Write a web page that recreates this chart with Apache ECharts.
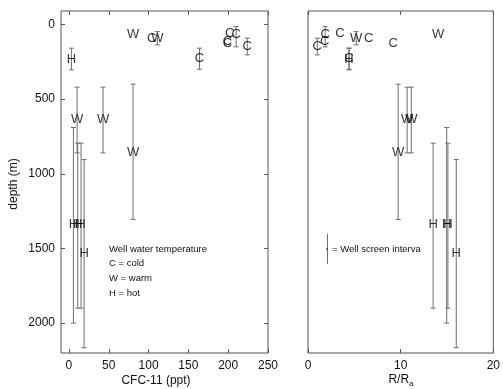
<!DOCTYPE html>
<html>
<head>
<meta charset="utf-8">
<script src="https://cdn.jsdelivr.net/npm/echarts@6/dist/echarts.min.js"></script>
<style>
  html, body { margin: 0; padding: 0; background: #fff; }
  #chart { width: 503px; height: 389px; }
</style>
</head>
<body>
<div id="chart"></div>
<script>
// one entry per well
const wellType = ["C", "C", "C", "C", "C", "C", "C", "W", "W", "W", "W", "W", "H", "H", "H", "H", "H"];
const depth = [95, 226, 126, 63, 70, 150, 115, 66, 92, 638, 638, 860, 232, 1340, 1340, 1340, 1535];
const cfc11 = [104, 164, 199, 202, 210, 224, 199, 80.5, 111, 10.2, 42.8, 80.5, 3.1, 5.6, 11, 15.2, 19];
const rRa = [6.56, 4.43, 9.2, 3.44, 1.85, 1.0, 1.8, 14.05, 5.2, 10.7, 11.15, 9.73, 4.43, 14.97, 15.1, 13.5, 16];
// well screen interval (top, bottom), null = no bar drawn
const screenTop = [null, 159, null, null, 14, 92, null, null, 48, 420, 420, 400, 159, 690, 795, 795, 905];
const screenBottom = [null, 300, null, null, 150, 204, null, null, 137, 860, 860, 1306, 304, 2000, 1900, 1900, 2165];

const depthTicks = [0, 500, 1000, 1500, 2000];
const cfcTicks = [0, 50, 100, 150, 200, 250];
const legendLines = ["Well water temperature", "C = cold", "W = warm", "H = hot"];

const FONT = "Liberation Sans, Arial, Helvetica, sans-serif";
const LINE = "#555";
const BAR = "#6e6e6e";

function barData(xs) {
  let out = [];
  for (let i = 0; i < xs.length; i++) {
    if (screenTop[i] == null) continue;
    out.push([xs[i], screenTop[i], screenBottom[i]]);
  }
  return out;
}

function letterData(xs) {
  return xs.map((x, i) => [x, depth[i], wellType[i]]);
}

function renderBar(params, api) {
  const x = api.value(0);
  const a = api.coord([x, api.value(1)]);
  const b = api.coord([x, api.value(2)]);
  const w = 2.5;
  const style = { stroke: BAR, lineWidth: 1 };
  return {
    type: "group",
    children: [
      { type: "line", shape: { x1: a[0], y1: a[1], x2: b[0], y2: b[1] }, style: style },
      { type: "line", shape: { x1: a[0] - w, y1: a[1], x2: a[0] + w, y2: a[1] }, style: style },
      { type: "line", shape: { x1: b[0] - w, y1: b[1], x2: b[0] + w, y2: b[1] }, style: style },
    ],
  };
}

const plain = (v) => String(v);

function xAxisCommon(extra) {
  return Object.assign({
    type: "value",
    axisLine: { show: false, onZero: false },
    splitLine: { show: false },
    axisTick: { inside: true, length: 4, lineStyle: { color: LINE } },
    axisLabel: { color: "#111", fontSize: 12, fontFamily: FONT, margin: 7, formatter: plain },
  }, extra);
}

function yAxisCommon(extra) {
  return Object.assign({
    type: "value",
    inverse: true,
    min: -90,
    max: 2200,
    axisLine: { show: false, onZero: false },
    splitLine: { show: false },
    axisTick: { inside: true, length: 4, lineStyle: { color: LINE }, customValues: depthTicks },
    axisLabel: { color: "#111", fontSize: 12, fontFamily: FONT, margin: 6, customValues: depthTicks, formatter: plain },
  }, extra);
}

const letterLabel = {
  show: true,
  position: "inside",
  color: "#000",
  fontSize: 13,
  fontFamily: FONT,
  formatter: (p) => p.data[2],
};

const chart = echarts.init(document.getElementById("chart"));

const option = {
  animation: false,
  backgroundColor: "#fff",
  grid: [
    { left: 61, top: 11, width: 207, height: 342, show: true, borderColor: LINE, borderWidth: 1, backgroundColor: "transparent" },
    { left: 308, top: 11, width: 189, height: 342, show: true, borderColor: LINE, borderWidth: 1, backgroundColor: "transparent" },
  ],
  xAxis: [
    xAxisCommon({
      gridIndex: 0, min: -10, max: 250,
      axisTick: { inside: true, length: 4, lineStyle: { color: LINE }, customValues: cfcTicks },
      axisLabel: { color: "#111", fontSize: 12, fontFamily: FONT, margin: 7, customValues: cfcTicks, formatter: plain },
    }),
    xAxisCommon({
      gridIndex: 0, min: -10, max: 250, position: "top",
      axisTick: { inside: true, length: 4, lineStyle: { color: LINE }, customValues: cfcTicks },
      axisLabel: { show: false },
    }),
    xAxisCommon({ gridIndex: 1, min: 0, max: 20, interval: 10 }),
    xAxisCommon({ gridIndex: 1, min: 0, max: 20, interval: 10, position: "top", axisLabel: { show: false } }),
  ],
  yAxis: [
    yAxisCommon({ gridIndex: 0 }),
    yAxisCommon({ gridIndex: 0, position: "right", axisLabel: { show: false } }),
    yAxisCommon({ gridIndex: 1, axisTick: { show: false }, axisLabel: { show: false } }),
  ],
  series: [
    {
      type: "custom",
      xAxisIndex: 0, yAxisIndex: 0,
      renderItem: renderBar,
      encode: { x: 0, y: [1, 2] },
      data: barData(cfc11),
      z: 2,
    },
    {
      type: "scatter",
      xAxisIndex: 0, yAxisIndex: 0,
      symbolSize: 1,
      itemStyle: { color: "rgba(0,0,0,0)" },
      label: letterLabel,
      data: letterData(cfc11),
      z: 3,
    },
    {
      type: "custom",
      xAxisIndex: 2, yAxisIndex: 2,
      renderItem: renderBar,
      encode: { x: 0, y: [1, 2] },
      data: barData(rRa),
      z: 2,
    },
    {
      type: "scatter",
      xAxisIndex: 2, yAxisIndex: 2,
      symbolSize: 1,
      itemStyle: { color: "rgba(0,0,0,0)" },
      label: letterLabel,
      data: letterData(rRa),
      z: 3,
    },
  ],
  graphic: [
    {
      type: "text", x: 14, y: 184, rotation: Math.PI / 2,
      style: { text: "depth (m)", fontSize: 12, fontFamily: FONT, fill: "#111", align: "center", verticalAlign: "middle" },
    },
    {
      type: "text", x: 156, y: 381,
      style: { text: "CFC-11 (ppt)", fontSize: 12, fontFamily: FONT, fill: "#111", align: "center", verticalAlign: "middle" },
    },
    {
      type: "text", x: 401, y: 380,
      style: {
        text: "{n|R/R}{s|a}",
        align: "center", verticalAlign: "middle",
        rich: {
          n: { fontSize: 12, fontFamily: FONT, fill: "#111" },
          s: { fontSize: 8, fontFamily: FONT, fill: "#111", padding: [8, 0, 0, 0] },
        },
      },
    },
    ...legendLines.map((t, i) => ({
      type: "text", x: 109, y: [249, 263.5, 278.5, 293.5][i],
      style: { text: t, fontSize: 9.5, fontFamily: FONT, fill: "#111", verticalAlign: "middle" },
    })),
    { type: "line", shape: { x1: 327.5, y1: 234, x2: 327.5, y2: 264 }, style: { stroke: BAR, lineWidth: 1 } },
    { type: "line", shape: { x1: 326, y1: 249, x2: 328, y2: 249 }, style: { stroke: "#222", lineWidth: 1 } },
    {
      type: "text", x: 332, y: 249,
      style: { text: "= Well screen interva", fontSize: 9.5, fontFamily: FONT, fill: "#111", verticalAlign: "middle" },
    },
  ],
};

chart.setOption(option);
</script>
</body>
</html>
